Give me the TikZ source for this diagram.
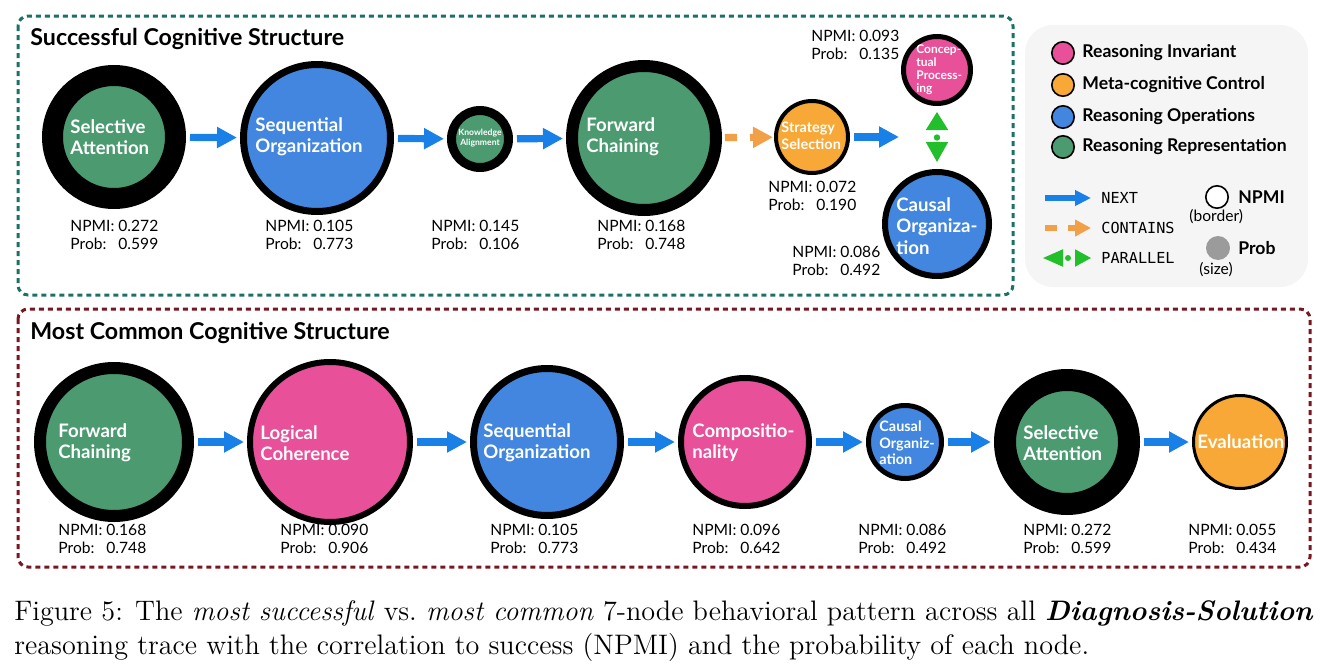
\documentclass[tikz,border=0pt]{standalone}
\usepackage{fontspec}
\setsansfont{Lato}
\setmonofont{DejaVu Sans Mono}
\usepackage{tikz}
\usetikzlibrary{arrows.meta,calc}

\definecolor{repgreen}{RGB}{76,154,112}
\definecolor{opblue}{RGB}{66,134,224}
\definecolor{invpink}{RGB}{232,80,154}
\definecolor{metaorange}{RGB}{247,168,54}
\definecolor{nextblue}{RGB}{24,128,230}
\definecolor{containorange}{RGB}{242,160,72}
\definecolor{paragreen}{RGB}{34,190,44}
\definecolor{succteal}{RGB}{28,112,102}
\definecolor{commred}{RGB}{122,22,32}
\definecolor{legendgrey}{RGB}{245,245,245}
\definecolor{probgrey}{RGB}{155,155,155}

\newcommand{\stats}[2]{\begin{tabular}{@{}l@{\ }l@{}}NPMI: & #1\\Prob: & #2\end{tabular}}

\tikzset{
  ring/.style={circle,draw=black,inner sep=0pt},
  inlabel/.style={anchor=west,inner sep=0pt,align=left,text=white,
    font=\sffamily\bfseries\fontsize{9.3}{10.6}\selectfont},
  stat/.style={anchor=west,inner sep=0pt,font=\sffamily\fontsize{7.8}{9}\selectfont},
  headline/.style={anchor=west,inner sep=0pt,font=\sffamily\bfseries\fontsize{11.6}{13}\selectfont},
  legtext/.style={anchor=west,inner sep=0pt,font=\sffamily\bfseries\fontsize{8.8}{10}\selectfont},
  legmono/.style={anchor=west,inner sep=0pt,font=\ttfamily\fontsize{7.6}{9}\selectfont},
  nextarrow/.style={nextblue,line width=3.6pt,-{Triangle[length=10pt,width=10pt]},
    shorten <=2pt,shorten >=1.5pt},
  containsarrow/.style={containorange,line width=3.6pt,-{Triangle[length=10pt,width=10pt]},
    dash pattern=on 6pt off 6.5pt,shorten <=1.5pt,shorten >=0.5pt},
  paraarrow/.style={paragreen,line width=1pt,dash pattern=on 0pt off 80pt,
    {Triangle[length=9pt,width=11pt]}-{Triangle[length=10pt,width=11pt]},
    shorten <=3pt,shorten >=3.5pt},
  frameline/.style={line width=1.5pt,dash pattern=on 2.5pt off 2pt,rounded corners=5pt}
}

\begin{document}
\begin{tikzpicture}[x=0.5pt,y=-0.5pt]
\useasboundingbox (0,0) rectangle (1329,669);

% frames
\draw[frameline,succteal] (18,16) rectangle (1013,295);
\draw[frameline,commred] (18,309) rectangle (1310,567);
\node[headline] (ttop) at (30,39) {Successful Cognitive Structure};
\node[headline] (tbot) at (30,333) {Most Common Cognitive Structure};

% successful structure
\node[ring,fill=repgreen,line width=10.5pt,minimum size=61.5pt] (s1) at (114,137) {};
\node[ring,fill=opblue,line width=3.5pt,minimum size=73.5pt] (s2) at (317,138) {};
\node[ring,fill=repgreen,line width=4.5pt,minimum size=28.5pt] (s3) at (480,139) {};
\node[ring,fill=repgreen,line width=6pt,minimum size=72pt] (s4) at (644,138) {};
\node[ring,fill=metaorange,line width=2pt,minimum size=36pt] (s5) at (812,137) {};
\node[ring,fill=invpink,line width=2.5pt,minimum size=33.5pt] (s6) at (937,70) {};
\node[ring,fill=opblue,line width=3pt,minimum size=52pt] (s7) at (937,224) {};

\node[inlabel] (s1t) at (70,137) {Selective\\Attention};
\node[inlabel] (s2t) at (255,137) {Sequential\\Organization};
\node[inlabel,anchor=center,align=center,font=\sffamily\bfseries\fontsize{4.3}{4.8}\selectfont] (s3t) at (480,138) {Knowledge\\Alignment};
\node[inlabel] (s4t) at (586,137) {Forward\\Chaining};
\node[inlabel,font=\sffamily\bfseries\fontsize{7.2}{8.5}\selectfont] (s5t) at (781,136) {Strategy\\Selection};
\node[inlabel,font=\sffamily\bfseries\fontsize{6}{6.5}\selectfont] (s6t) at (916,70) {Concep-\\tual\\Process-\\ing};
\node[inlabel] (s7t) at (896,226) {Causal\\Organiza-\\tion};

\node[stat] (s1s) at (70,237) {\stats{0.272}{0.599}};
\node[stat] (s2s) at (265,237) {\stats{0.105}{0.773}};
\node[stat] (s3s) at (431,237) {\stats{0.145}{0.106}};
\node[stat] (s4s) at (597,237) {\stats{0.168}{0.748}};
\node[stat] (s5s) at (768,198) {\stats{0.072}{0.190}};
\node[stat] (s6s) at (811,47) {\stats{0.093}{0.135}};
\node[stat] (s7s) at (792,263) {\stats{0.086}{0.492}};

\coordinate (grp) at (902,137);
\draw[nextarrow] (s1) -- (s2);
\draw[nextarrow] (s2) -- (s3);
\draw[nextarrow] (s3) -- (s4);
\draw[containsarrow] (s4) -- (s5);
\draw[nextarrow] (s5) -- (grp);
\draw[paraarrow] (s6) -- (s7);
\node[circle,fill=paragreen,inner sep=0pt,minimum size=3.2pt] (pdot) at ($(s6.south)!0.5!(s7.north)$) {};

% most common structure
\node[ring,fill=repgreen,line width=6pt,minimum size=74pt] (c1) at (114,442) {};
\node[ring,fill=invpink,line width=3pt,minimum size=80pt] (c2) at (330,442) {};
\node[ring,fill=opblue,line width=3.5pt,minimum size=73.5pt] (c3) at (547,442) {};
\node[ring,fill=invpink,line width=3pt,minimum size=64pt] (c4) at (745,442) {};
\node[ring,fill=opblue,line width=2.5pt,minimum size=36.5pt] (c5) at (905,442) {};
\node[ring,fill=repgreen,line width=11pt,minimum size=62pt] (c6) at (1067,442) {};
\node[ring,fill=metaorange,line width=1.5pt,minimum size=46.5pt] (c7) at (1240,442) {};

\node[inlabel] (c1t) at (58,443) {Forward\\Chaining};
\node[inlabel] (c2t) at (260,443) {Logical\\Coherence};
\node[inlabel] (c3t) at (483,443) {Sequential\\Organization};
\node[inlabel] (c4t) at (692,443) {Compositio-\\nality};
\node[inlabel,font=\sffamily\bfseries\fontsize{7.2}{8.2}\selectfont] (c5t) at (879,443) {Causal\\Organiz-\\ation};
\node[inlabel] (c6t) at (1023,443) {Selective\\Attention};
\node[inlabel] (c7t) at (1197,442) {Evaluation};

\node[stat] (c1s) at (58,541) {\stats{0.168}{0.748}};
\node[stat] (c2s) at (280,541) {\stats{0.090}{0.906}};
\node[stat] (c3s) at (490,541) {\stats{0.105}{0.773}};
\node[stat] (c4s) at (692,541) {\stats{0.096}{0.642}};
\node[stat] (c5s) at (858,541) {\stats{0.086}{0.492}};
\node[stat] (c6s) at (1023,541) {\stats{0.272}{0.599}};
\node[stat] (c7s) at (1188,541) {\stats{0.055}{0.434}};

\foreach \a/\b in {c1/c2,c2/c3,c3/c4,c4/c5,c5/c6,c6/c7}
  \draw[nextarrow] (\a) -- (\b);

% legend
\fill[legendgrey,rounded corners=14pt] (1025,25) rectangle (1308,287);
\node[ring,fill=invpink,line width=0.8pt,minimum size=11.2pt] (l1) at (1063,53) {};
\node[ring,fill=metaorange,line width=0.8pt,minimum size=11.2pt] (l2) at (1063,85) {};
\node[ring,fill=opblue,line width=0.8pt,minimum size=11.2pt] (l3) at (1063,117) {};
\node[ring,fill=repgreen,line width=0.8pt,minimum size=11.2pt] (l4) at (1063,147) {};
\node[legtext] (l1t) at (1082,53) {Reasoning Invariant};
\node[legtext] (l2t) at (1082,85) {Meta-cognitive Control};
\node[legtext] (l3t) at (1082,117) {Reasoning Operations};
\node[legtext] (l4t) at (1082,147) {Reasoning Representation};

\coordinate (nx0) at (1045,198); \coordinate (nx1) at (1091,198);
\coordinate (ct0) at (1045,228); \coordinate (ct1) at (1091,228);
\coordinate (pl0) at (1043,258); \coordinate (pl1) at (1091,258);
\draw[nextarrow,line width=2.6pt,-{Triangle[length=8pt,width=7.5pt]},shorten <=0pt,shorten >=0pt] (nx0) -- (nx1);
\draw[containsarrow,line width=2.6pt,-{Triangle[length=8pt,width=8pt]},dash pattern=on 6pt off 5.5pt,shorten <=0pt,shorten >=0pt] (ct0) -- (ct1);
\draw[paraarrow,{Triangle[length=10pt,width=8.5pt]}-{Triangle[length=8pt,width=8.5pt]},shorten <=0pt,shorten >=0pt] (pl0) -- (pl1);
\node[circle,fill=paragreen,inner sep=0pt,minimum size=3pt] (pldot) at (1068,258) {};
\node[legmono] (nxt) at (1101,198) {NEXT};
\node[legmono] (ctt) at (1101,228) {CONTAINS};
\node[legmono] (plt) at (1101,258) {PARALLEL};

\node[ring,fill=white,line width=0.8pt,minimum size=11.2pt] (lnp) at (1217,197) {};
\node[legtext,font=\sffamily\bfseries\fontsize{8.8}{10}\selectfont] (lnpt) at (1238,197) {NPMI};
\node[stat] (lnpb) at (1189,217) {(border)};
\node[circle,fill=probgrey,inner sep=0pt,minimum size=12pt] (lpr) at (1218,248) {};
\node[legtext,font=\sffamily\bfseries\fontsize{8.8}{10}\selectfont] (lprt) at (1238,248) {Prob};
\node[stat] (lprs) at (1199,270) {(size)};

% caption
\node[anchor=north west,inner sep=0pt,align=left,font=\fontsize{14.1}{17}\selectfont] (cap) at (14,600)
  {Figure 5: The \textit{most successful} vs.\ \textit{most common} 7-node behavioral pattern across all \textbf{\textit{Diagnosis-Solution}}\\
   reasoning trace with the correlation to success (NPMI) and the probability of each node.};
\end{tikzpicture}
\end{document}
